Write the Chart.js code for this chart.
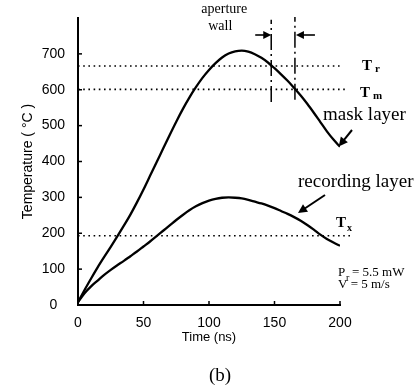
<!DOCTYPE html>
<html><head><meta charset="utf-8">
<script src="https://cdn.jsdelivr.net/npm/chart.js@4/dist/chart.umd.min.js"></script>
<style>html,body{margin:0;padding:0;background:#fff;}#wrap{width:420px;height:386px;}</style>
</head><body><div id="wrap"><canvas id="c" width="420" height="386"></canvas></div>
<script>
const times = [0,5,10,15,20,25,30,35,40,45,50,55,60,65,70,75,80,85,90,95,100,105,110,115,120,125,130,135,140,145,150,155,160,165,170,175,180,185,190,195,200];
const maskLayer = [8,42,74,105,134,162,191,221,252,286,322,360,398,436,474,511,546,578,607,633,655,674,690,701,707,709,706,699,689,676,660,643,625,605,584,561,536,510,484,461,441];
const recordingLayer = [8,33,52,68,84,98,111,123,136,149,163,177,192,207,222,237,251,264,275,284,291,296,299,300,299,297,293,288,283,277,270,262,254,245,235,223,210,196,184,174,165];
const yTicks = [0,100,200,300,400,500,600,700];
const xTicks = [0,50,100,150,200];
const thresholdNames = ['T','T','T'];
const thresholdSubs = ['r','m','x'];
const thresholdValues = [666, 601, 193];
const thresholdEnds = [200, 205, 209];
const apertureWall = [147.5, 165.6];
const wallTop = [795, 803];
const wallBottom = [566, 572];

const pts = (arr) => times.map((t, i) => ({x: t, y: arr[i]}));
const datasets = [
  {label:'mask layer', data: pts(maskLayer), borderColor:'#000', borderWidth:2.3, pointRadius:0, cubicInterpolationMode:'monotone', fill:false},
  {label:'recording layer', data: pts(recordingLayer), borderColor:'#000', borderWidth:2.3, pointRadius:0, cubicInterpolationMode:'monotone', fill:false}
];
thresholdValues.forEach((v, i) => datasets.push({
  label: thresholdNames[i] + thresholdSubs[i], data: [{x:0, y:v}, {x:thresholdEnds[i], y:v}],
  borderColor:'#000', borderWidth:1.6, borderDash:[1.6,3.6], pointRadius:0, clip:false, fill:false
}));
apertureWall.forEach((w, i) => datasets.push({
  label:'wall', data: [{x:w, y:wallBottom[i]}, {x:w, y:wallTop[i]}],
  borderColor:'#000', borderWidth:1.5, borderDash:[16,4,2,4], pointRadius:0, clip:false, fill:false
}));

function arrow(ctx, x1, y1, x2, y2, head, half) {
  const a = Math.atan2(y2 - y1, x2 - x1);
  ctx.beginPath(); ctx.moveTo(x1, y1);
  ctx.lineTo(x2 - Math.cos(a) * head * 0.8, y2 - Math.sin(a) * head * 0.8); ctx.stroke();
  ctx.beginPath(); ctx.moveTo(x2, y2);
  ctx.lineTo(x2 - head * Math.cos(a) + half * Math.sin(a), y2 - head * Math.sin(a) - half * Math.cos(a));
  ctx.lineTo(x2 - head * Math.cos(a) - half * Math.sin(a), y2 - head * Math.sin(a) + half * Math.cos(a));
  ctx.closePath(); ctx.fill();
}

const annot = {
  id: 'annot',
  afterDraw(chart) {
    const ctx = chart.ctx, xs = chart.scales.x, ys = chart.scales.y;
    ctx.save();
    ctx.strokeStyle = '#000'; ctx.fillStyle = '#000'; ctx.lineWidth = 1.5;
    yTicks.forEach(v => { if (v === 0) return; const y = ys.getPixelForValue(v);
      ctx.beginPath(); ctx.moveTo(xs.left, y); ctx.lineTo(xs.left + 4, y); ctx.stroke(); });
    xTicks.forEach(v => { if (v === 0) return; const x = xs.getPixelForValue(v);
      ctx.beginPath(); ctx.moveTo(x, ys.bottom); ctx.lineTo(x, ys.bottom - 4); ctx.stroke(); });
    const serif = '"Liberation Serif", "Times New Roman", serif';
    const w0 = xs.getPixelForValue(apertureWall[0]), w1 = xs.getPixelForValue(apertureWall[1]);
    ctx.font = '14px ' + serif; ctx.textAlign = 'center'; ctx.textBaseline = 'alphabetic';
    ctx.fillText('aperture', w0 - 47, 13);
    ctx.fillText('wall', w0 - 51, 30);
    ctx.lineWidth = 1.6;
    arrow(ctx, w0 - 16, 35, w0, 35, 8, 4);
    arrow(ctx, w1 + 20, 35, w1 + 1, 35, 8, 4);
    ctx.textAlign = 'left';
    const lx = [362, 360, 336], ly = [70, 97, 227], sx = [375, 373, 347], sy = [72, 99, 231], sf = [11, 11, 10];
    thresholdValues.forEach((v, i) => {
      ctx.font = 'bold 15px ' + serif; ctx.fillText(thresholdNames[i], lx[i], ly[i]);
      ctx.font = 'bold ' + sf[i] + 'px ' + serif; ctx.fillText(thresholdSubs[i], sx[i], sy[i]);
    });
    ctx.font = '19px ' + serif;
    ctx.fillText('mask layer', 323, 120);
    ctx.fillText('recording layer', 298, 187);
    ctx.lineWidth = 2;
    arrow(ctx, 352, 130, xs.getPixelForValue(199), ys.getPixelForValue(442), 9, 4.5);
    arrow(ctx, 325, 195, 298, 213, 9, 4.5);
    ctx.font = '13px ' + serif;
    ctx.fillText('P', 338, 276);
    ctx.font = '10px ' + serif; ctx.fillText('r', 346, 281);
    ctx.font = '13px ' + serif; ctx.fillText('= 5.5 mW', 352, 276);
    ctx.fillText('V = 5 m/s', 338, 288);
    ctx.font = '19px ' + serif; ctx.textAlign = 'center';
    ctx.fillText('(b)', 220, 381);
    ctx.restore();
  }
};

const sans = '"Liberation Sans", Arial, sans-serif';
new Chart(document.getElementById('c'), {
  type: 'line',
  data: { datasets },
  options: {
    responsive: false, animation: false, devicePixelRatio: 1,
    layout: { padding: { left: 0, right: 80, top: 18, bottom: 41 } },
    plugins: { legend: { display: false }, tooltip: { enabled: false } },
    scales: {
      x: {
        type: 'linear', min: 0, max: 200,
        afterFit: s => { s.height = 40; },
        afterBuildTicks: s => { s.ticks = xTicks.map(v => ({value: v})); },
        ticks: { color: '#000', font: { family: sans, size: 14 }, padding: 2, maxRotation: 0 },
        grid: { display: false },
        border: { display: true, color: '#000', width: 2 },
        title: { display: true, text: 'Time (ns)', color: '#000', font: { family: sans, size: 13 }, padding: { top: 0, bottom: 0 } }
      },
      y: {
        type: 'linear', min: 0, max: 800,
        afterFit: s => { s.width = 78; },
        afterBuildTicks: s => { s.ticks = yTicks.map(v => ({value: v})); },
        ticks: { color: '#000', font: { family: sans, size: 14 }, padding: 5, crossAlign: 'center' },
        grid: { display: false },
        border: { display: true, color: '#000', width: 2 },
        title: { display: true, text: 'Temperature ( °C )', color: '#000', font: { family: sans, size: 14 }, padding: { top: 20, bottom: 0 } }
      }
    }
  },
  plugins: [annot]
});
</script></body></html>
